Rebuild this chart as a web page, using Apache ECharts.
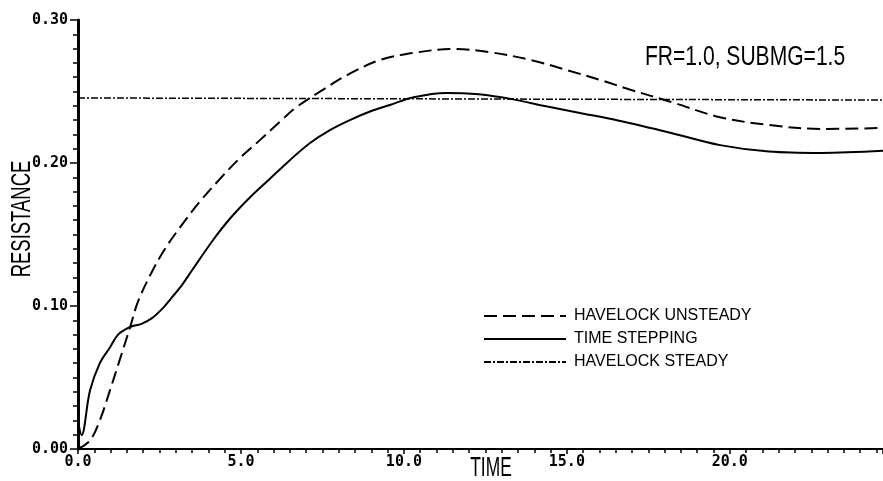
<!DOCTYPE html>
<html>
<head>
<meta charset="utf-8">
<script src="https://cdn.jsdelivr.net/npm/echarts@6/dist/echarts.min.js"></script>
<style>html,body{margin:0;padding:0;background:#fff}#c{width:883px;height:481px}</style>
</head>
<body>
<div id="c"></div>
<script>
// Time stepping (solid)
const stepT = [0, 0.11, 0.37, 0.67, 0.98, 1.23, 1.6, 1.95, 2.27, 2.58, 2.88, 3.2, 3.5, 4.14, 4.66, 5.28, 5.89, 6.5, 7.12, 7.73, 8.34, 8.96, 9.57, 10.3, 11.3, 12.3, 13.35, 14.4, 15.4, 16.6, 18.2, 19.7, 21.2, 22.8, 24.7];
const stepV = [0.02, 0.0098, 0.041, 0.060, 0.071, 0.080, 0.0853, 0.0875, 0.0915, 0.098, 0.106, 0.115, 0.125, 0.146, 0.161, 0.176, 0.189, 0.202, 0.214, 0.223, 0.230, 0.236, 0.2406, 0.246, 0.249, 0.248, 0.2445, 0.2395, 0.235, 0.2295, 0.221, 0.2125, 0.208, 0.207, 0.2085];
// Havelock unsteady (dashed)
const unsT = [0, 0.37, 0.67, 0.98, 1.29, 1.6, 1.84, 2.27, 2.67, 3.13, 3.74, 4.36, 4.97, 5.58, 6.2, 6.7, 7.5, 8.3, 9.26, 10.3, 11.5, 12.6, 13.9, 15.0, 16.2, 16.9, 18.2, 19.7, 21.2, 22.8, 24.7];
const unsV = [0, 0.006, 0.020, 0.041, 0.063, 0.0853, 0.103, 0.124, 0.140, 0.155, 0.173, 0.189, 0.2035, 0.216, 0.229, 0.239, 0.251, 0.262, 0.272, 0.277, 0.2797, 0.2776, 0.272, 0.265, 0.2568, 0.2516, 0.2427, 0.232, 0.2266, 0.2238, 0.2245];
// Havelock steady (dash-dot)
const stdT = [0, 24.7];
const stdV = [0.2455, 0.2440];

const names = ['HAVELOCK UNSTEADY', 'TIME STEPPING', 'HAVELOCK STEADY'];
const xTicks = [0, 5, 10, 15, 20];
const yTicks = [0, 0.1, 0.2, 0.3];

const sans = "'Liberation Sans',sans-serif";
const mono = "'DejaVu Sans Mono','Liberation Mono',monospace";

const zip = (a, b) => a.map((v, i) => [v, b[i]]);

const chart = echarts.init(document.getElementById('c'));
chart.setOption({
  animation: false,
  backgroundColor: '#fff',
  grid: { left: 78, right: 0, top: 20, bottom: 32, containLabel: false },
  xAxis: {
    type: 'value', min: 0, max: 24.7, interval: 5,
    axisLine: { show: true, onZero: false, lineStyle: { color: '#000', width: 2 } },
    axisTick: { show: true, length: 5, lineStyle: { color: '#000', width: 1.5 } },
    minorTick: { show: true, splitNumber: 10, length: 4, lineStyle: { color: '#000', width: 1.5 } },
    splitLine: { show: false },
    axisLabel: { color: '#000', fontFamily: mono, fontWeight: 'bold', fontSize: 15, margin: 6,
      formatter: v => xTicks.includes(v) ? v.toFixed(1) : '' , showMaxLabel: false }
  },
  yAxis: {
    type: 'value', min: 0, max: 0.3, interval: 0.1,
    axisLine: { show: true, onZero: false, lineStyle: { color: '#000', width: 3 } },
    axisTick: { show: true, length: 8, lineStyle: { color: '#000', width: 1.5 } },
    minorTick: { show: true, splitNumber: 10, length: 5, lineStyle: { color: '#000', width: 1.5 } },
    splitLine: { show: false },
    axisLabel: { color: '#000', fontFamily: mono, fontWeight: 'bold', fontSize: 15, margin: 10,
      formatter: v => yTicks.some(t => Math.abs(t - v) < 1e-9) ? v.toFixed(2) : '' }
  },
  legend: {
    orient: 'vertical', left: 483, top: 308, padding: 0,
    itemWidth: 82, itemHeight: 14, itemGap: 7,
    itemStyle: { color: 'rgba(0,0,0,0)', borderWidth: 0, opacity: 0 },
    textStyle: { color: '#000', fontFamily: sans, fontSize: 16, lineHeight: 14, padding: [0, 0, 0, 3] },
    data: names
  },
  graphic: [
    { type: 'text', x: 645, y: 58, scaleX: 0.78, scaleY: 1,
      style: { text: 'FR=1.0, SUBMG=1.5', fill: '#000', font: "27px " + sans, verticalAlign: 'middle' } },
    { type: 'text', x: 22, y: 219, rotation: Math.PI / 2, scaleX: 0.66, scaleY: 1,
      style: { text: 'RESISTANCE', fill: '#000', font: "28px " + sans, align: 'center', verticalAlign: 'middle' } },
    { type: 'text', x: 491, y: 468, scaleX: 0.62, scaleY: 1,
      style: { text: 'TIME', fill: '#000', font: "28px " + sans, align: 'center', verticalAlign: 'middle' } }
  ],
  series: [
    { name: names[0], type: 'line', smooth: 0.35, symbol: 'none', data: zip(unsT, unsV),
      lineStyle: { color: '#000', width: 2, type: [13, 6] }, itemStyle: { color: '#000' } },
    { name: names[1], type: 'line', smooth: 0.35, symbol: 'none', data: zip(stepT, stepV),
      lineStyle: { color: '#000', width: 2, type: 'solid' }, itemStyle: { color: '#000' } },
    { name: names[2], type: 'line', symbol: 'none', data: zip(stdT, stdV),
      lineStyle: { color: '#000', width: 1.5, type: [7, 2, 2, 2] }, itemStyle: { color: '#000' } }
  ]
});
</script>
</body>
</html>
